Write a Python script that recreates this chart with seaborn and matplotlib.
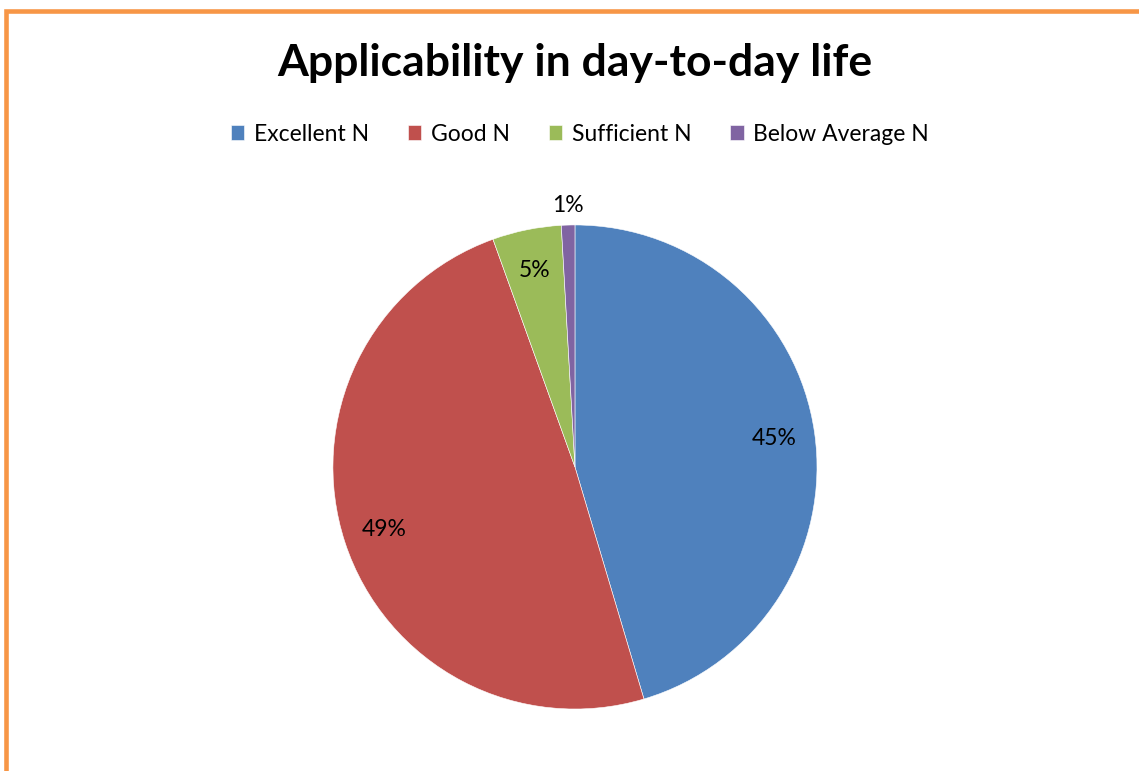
import numpy as np
import matplotlib
matplotlib.use("Agg")
import matplotlib.pyplot as plt
import seaborn as sns
from matplotlib.patches import Rectangle

# Data
categories = ["Excellent N", "Good N", "Sufficient N", "Below Average N"]
shares = [45.4, 49.1, 4.6, 0.9]
colors = ["#4F81BD", "#C0504D", "#9BBB59", "#8064A2"]
title = "Applicability in day-to-day life"

sns.set_theme(style="white")
plt.rcParams['font.family'] = ['Lato', 'DejaVu Sans']
plt.rcParams['text.color'] = 'black'

fig = plt.figure(figsize=(11.39, 7.71), dpi=100)
ax = fig.add_axes([0.2923, 0.0803, 0.425, 0.628])

wedges, texts, autotexts = ax.pie(
    shares, colors=colors, startangle=90, counterclock=False,
    autopct='%.0f%%', pctdistance=0.83,
    wedgeprops=dict(edgecolor='white', linewidth=0.4),
    textprops=dict(fontsize=16.5, color='black'))

# smallest slice label sits outside the pie
w = wedges[-1]
mid = np.deg2rad((w.theta1 + w.theta2) / 2)
autotexts[-1].set_position((1.08 * np.cos(mid), 1.08 * np.sin(mid)))

ax.set_xlim(-1, 1)
ax.set_ylim(-1, 1)
ax.set_aspect('equal')
ax.axis('off')

fig.text(0.505, 0.918, title, ha='center', va='center',
         fontsize=32, fontweight='bold', color='black')

fig.legend(wedges, categories, loc='center', bbox_to_anchor=(0.509, 0.826),
           ncol=4, frameon=False, fontsize=16.5, handlelength=0.6,
           handleheight=0.6, handletextpad=0.4, columnspacing=1.7,
           labelcolor='black')

# orange chart border (only top and left are visible in the crop)
fig.add_artist(Rectangle((5.5 / 1139, -0.1), 1.2, 1 - 11.5 / 771 + 0.1,
                         transform=fig.transFigure, fill=False,
                         edgecolor='#F79646', linewidth=3.3))

fig.savefig("out.png", dpi=100)
